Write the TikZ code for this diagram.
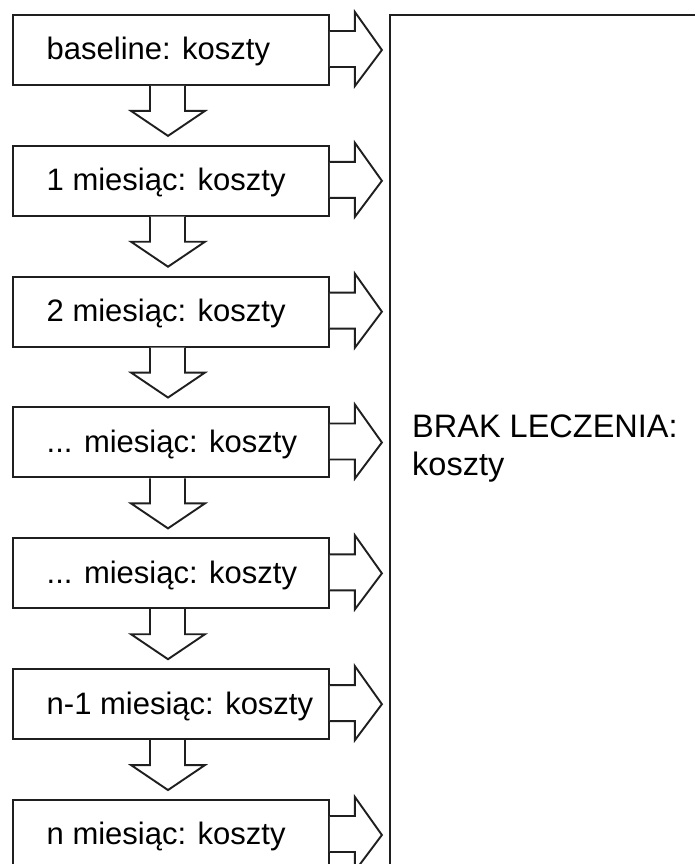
\documentclass[tikz,border=0pt]{standalone}
\usepackage{fontspec}
\setmainfont{Liberation Sans}
\usetikzlibrary{calc}
\newcommand\tridot{...}
\tikzset{
  outline/.style={draw=black!88, line width=1.9pt, line join=miter},
  costbox/.style={outline, rectangle, anchor=north west, minimum width=316pt, minimum height=70pt, inner sep=0pt},
  boxlabel/.style={anchor=base west, inner sep=0pt, font=\fontsize{31}{37}\selectfont},
  blockarrow/.style={outline, fill=white},
}
\begin{document}
\begin{tikzpicture}[x=1pt,y=-1pt]
\clip (0,0) rectangle (695,864);
\fill[white] (0,0) rectangle (695,864);
% large box on the right, running past the page edges
\node[outline, rectangle, anchor=north west, minimum width=360pt, minimum height=900pt, inner sep=0pt] (brak) at (389,14) {};
\node[anchor=base west, inner sep=0pt, align=left, font=\fontsize{32.5}{38}\selectfont] (braklabel) at ($(brak.north west)+(23,461)$) {BRAK LECZENIA:\\koszty};
% column of monthly cost boxes, each with a block arrow to the right
\foreach \i/\txt in {1/baseline: koszty, 2/1 miesiąc: koszty, 3/2 miesiąc: koszty, 4/\tridot{} miesiąc: koszty, 5/\tridot{} miesiąc: koszty, 6/n-1 miesiąc: koszty, 7/n miesiąc: koszty} {
  \node[costbox] (b\i) at (12, {14+130.83*(\i-1)}) {};
  \node[boxlabel] (t\i) at ($(b\i.north west)+(34.5,46)$) {\txt};
  \draw[blockarrow] ($(b\i.north east)+(0,17)$) -- ++(25,0) -- ++(0,-19) -- ($(b\i.north east)+(52,36)$) -- ($(b\i.north east)+(25,72)$) -- ++(0,-19) -- ++(-25,0);
}
% block arrows down between consecutive boxes
\foreach \i in {1,...,6} {
  \draw[blockarrow] ($(b\i.south west)+(138,0)$) -- ++(0,25) -- ++(-19,0) -- ($(b\i.south west)+(156,50)$) -- ($(b\i.south west)+(193,25)$) -- ++(-20,0) -- ++(0,-25);
}
\end{tikzpicture}
\end{document}
